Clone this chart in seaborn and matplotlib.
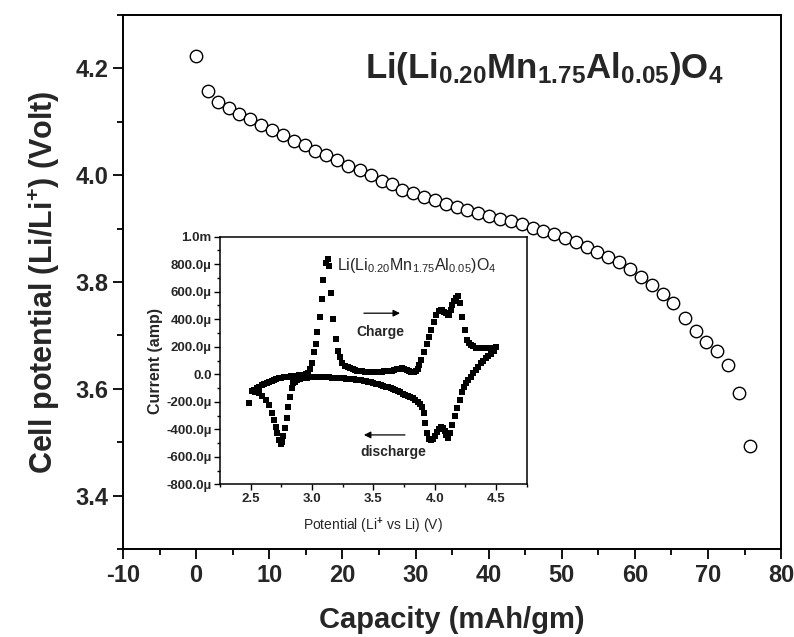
import matplotlib
matplotlib.use("Agg")
import matplotlib.pyplot as plt
from matplotlib.ticker import MultipleLocator
import seaborn as sns

# =========================
# Data
# =========================
# main panel: discharge curve
capacity = [0.0, 1.59, 2.99, 4.50, 5.91, 7.37, 8.83, 10.34, 11.93, 13.43,
            14.89, 16.26, 17.77, 19.23, 20.82, 22.42, 23.88, 25.38, 26.79, 28.20,
            29.71, 31.17, 32.68, 34.18, 35.64, 37.09, 38.60, 40.10, 41.61, 43.06,
            44.53, 46.01, 47.49, 48.98, 50.46, 51.96, 53.42, 54.83, 56.38, 57.88,
            59.35, 60.81, 62.32, 63.86, 65.26, 66.87, 68.33, 69.74, 71.21, 72.71,
            74.30, 75.76]
potential = [4.223, 4.158, 4.137, 4.125, 4.115, 4.105, 4.094, 4.085, 4.076, 4.065,
             4.056, 4.046, 4.037, 4.028, 4.018, 4.009, 4.000, 3.990, 3.983, 3.973,
             3.966, 3.959, 3.953, 3.946, 3.940, 3.935, 3.929, 3.923, 3.918, 3.914,
             3.908, 3.902, 3.896, 3.890, 3.883, 3.875, 3.866, 3.857, 3.847, 3.837,
             3.824, 3.810, 3.795, 3.777, 3.760, 3.732, 3.708, 3.688, 3.671, 3.645,
             3.593, 3.493]

# inset: cyclic voltammogram, current in microamp
charge_v = [2.49, 2.51, 2.53, 2.55, 2.57, 2.59, 2.61, 2.63, 2.65, 2.67, 2.69,
            2.71, 2.73, 2.75, 2.77, 2.79, 2.81, 2.83, 2.85, 2.87, 2.89, 2.91,
            2.93, 2.95, 2.97, 2.985, 2.998, 3.017, 3.030, 3.044, 3.066, 3.082,
            3.093, 3.112, 3.128, 3.140, 3.158, 3.174, 3.193, 3.212, 3.229, 3.248,
            3.27, 3.29, 3.31, 3.33, 3.35, 3.37, 3.39, 3.41, 3.43, 3.45, 3.47,
            3.49, 3.51, 3.53, 3.55, 3.57, 3.59, 3.61, 3.63, 3.65, 3.67, 3.69,
            3.71, 3.73, 3.75, 3.77, 3.79, 3.81, 3.83, 3.85, 3.865, 3.875, 3.89,
            3.914, 3.935, 3.955, 3.973, 3.995, 4.014, 4.036, 4.05, 4.063, 4.077,
            4.090, 4.105, 4.117, 4.131, 4.144, 4.158, 4.171, 4.190, 4.207, 4.226,
            4.245, 4.266, 4.280, 4.294, 4.31, 4.335, 4.36, 4.389, 4.415, 4.443,
            4.47, 4.497]
charge_i = [-206, -124, -112, -102, -92, -80, -70, -61, -53, -46, -40,
            -35, -30, -26, -22, -19, -17, -14, -12, -10, -8, -6,
            -3, 2, 12, 40, 85, 160, 221, 310, 419, 550,
            686, 807, 836, 790, 594, 400, 255, 172, 124, 80,
            62, 50, 42, 36, 31, 27, 24, 22, 20, 19, 18,
            18, 18, 19, 19, 20, 21, 22, 24, 27, 31, 36,
            41, 44, 40, 30, 24, 20, 20, 26, 40, 70, 104,
            165, 220, 274, 322, 383, 431, 463, 470, 468, 455,
            443, 432, 431, 465, 504, 530, 553, 569, 519, 419,
            322, 249, 225, 213, 203, 194, 191, 189, 189, 189,
            191, 196]

discharge_v = [4.480, 4.457, 4.436, 4.416, 4.395, 4.375, 4.355, 4.335, 4.315,
               4.294, 4.273, 4.253, 4.240, 4.226, 4.207, 4.185, 4.166, 4.144,
               4.125, 4.109, 4.095, 4.08, 4.065, 4.049, 4.035, 4.02, 4.005,
               3.99, 3.968, 3.955, 3.941, 3.922, 3.909, 3.895, 3.88,
               3.86, 3.84, 3.82, 3.80, 3.78, 3.76, 3.74, 3.72, 3.70, 3.68,
               3.66, 3.64, 3.62, 3.60, 3.58, 3.56, 3.54, 3.52, 3.50, 3.48,
               3.46, 3.44, 3.42, 3.40, 3.38, 3.36, 3.34, 3.32, 3.30, 3.28,
               3.26, 3.24, 3.22, 3.20, 3.18, 3.16, 3.14, 3.12, 3.10, 3.08,
               3.06, 3.04, 3.02, 3.00, 2.98, 2.96, 2.94, 2.92, 2.90, 2.88,
               2.86, 2.845, 2.834, 2.821, 2.807, 2.794, 2.780, 2.766, 2.753,
               2.745, 2.731, 2.718, 2.704, 2.690, 2.671, 2.650, 2.622, 2.595,
               2.568, 2.535, 2.514]
discharge_i = [170, 150, 133, 116, 98, 80, 55, 31, 7,
               -17, -42, -66, -95, -126, -186, -247, -307, -368,
               -428, -465, -440, -410, -390, -385, -395, -420, -450,
               -472, -478, -470, -430, -356, -283, -235, -215,
               -200, -185, -174, -165, -156, -148, -140, -131, -123, -116,
               -108, -101, -95, -89, -84, -78, -73, -68, -63, -59,
               -55, -51, -48, -45, -42, -39, -37, -35, -33, -31,
               -30, -28, -27, -26, -25, -24, -23, -22, -22, -21,
               -21, -21, -21, -22, -23, -25, -27, -30, -34, -40,
               -55, -60, -100, -162, -235, -320, -393, -448, -490,
               -507, -478, -429, -381, -332, -279, -223, -187, -158,
               -138, -126, -121]

inset_yticks = [-800, -600, -400, -200, 0, 200, 400, 600, 800, 1000]
inset_yticklabels = ['-800.0\u00b5', '-600.0\u00b5', '-400.0\u00b5', '-200.0\u00b5', '0.0',
                     '200.0\u00b5', '400.0\u00b5', '600.0\u00b5', '800.0\u00b5', '1.0m']
inset_xticks = [2.5, 3.0, 3.5, 4.0, 4.5]

compound = r'Li(Li$_{0.20}$Mn$_{1.75}$Al$_{0.05}$)O$_{4}$'
compound_bold = r'Li(Li$_{\mathbf{0.20}}$Mn$_{\mathbf{1.75}}$Al$_{\mathbf{0.05}}$)O$_{\mathbf{4}}$'

# =========================
# Style
# =========================
sns.set_style("ticks")
plt.rcParams['font.family'] = ['Liberation Sans', 'DejaVu Sans']
plt.rcParams['axes.unicode_minus'] = False
plt.rcParams['mathtext.fontset'] = 'custom'
plt.rcParams['mathtext.rm'] = 'Liberation Sans'
plt.rcParams['mathtext.it'] = 'Liberation Sans:italic'
plt.rcParams['mathtext.bf'] = 'Liberation Sans:bold'
plt.rcParams['mathtext.default'] = 'regular'

fig = plt.figure(figsize=(7.94, 6.37), dpi=100)

# =========================
# Main panel
# =========================
ax = fig.add_axes([0.155, 0.138, 0.8287, 0.8384])
sns.scatterplot(x=capacity, y=potential, ax=ax, marker='o', s=80,
                color='white', edgecolor='black', linewidth=1.0, zorder=3)
ax.set_xlim(-10, 80)
ax.set_ylim(3.3, 4.3)
ax.xaxis.set_major_locator(MultipleLocator(10))
ax.xaxis.set_minor_locator(MultipleLocator(5))
ax.yaxis.set_major_locator(MultipleLocator(0.2))
ax.yaxis.set_minor_locator(MultipleLocator(0.1))
ax.yaxis.set_major_formatter(plt.FormatStrFormatter('%.1f'))
ax.tick_params(which='major', direction='out', length=7, width=1.3, labelsize=17, color='black')
ax.tick_params(which='minor', direction='out', length=4, width=1.3, color='black')
for lab in ax.get_xticklabels() + ax.get_yticklabels():
    lab.set_fontweight('bold')
for sp in ax.spines.values():
    sp.set_linewidth(1.4)
    sp.set_color('black')

ax.set_xlabel('Capacity (mAh/gm)', fontsize=21, fontweight='bold', labelpad=14)
ax.set_ylabel(r'Cell potential (Li/Li$^{\mathbf{+}}$) (Volt)', fontsize=22,
              fontweight='bold', labelpad=10)
ax.text(0.368, 0.882, compound_bold, transform=ax.transAxes, fontsize=25,
        fontweight='bold', ha='left', va='baseline')

# =========================
# Inset: cyclic voltammogram
# =========================
axin = fig.add_axes([0.2771, 0.2397, 0.3863, 0.3887])
axin.set_facecolor('white')
sns.scatterplot(x=charge_v, y=charge_i, ax=axin, marker='s', s=20,
                color='black', linewidth=0, zorder=3)
sns.scatterplot(x=discharge_v, y=discharge_i, ax=axin, marker='s', s=20,
                color='black', linewidth=0, zorder=3)
axin.set_xlim(2.25, 4.75)
axin.set_ylim(-800, 1000)
axin.set_xticks(inset_xticks)
axin.set_xticklabels([f'{v:.1f}' for v in inset_xticks], fontsize=9.5, fontweight='bold')
axin.xaxis.set_minor_locator(MultipleLocator(0.25))
axin.set_yticks(inset_yticks)
axin.set_yticklabels(inset_yticklabels, fontsize=9.5, fontweight='bold')
axin.yaxis.set_minor_locator(MultipleLocator(100))
axin.tick_params(which='major', direction='out', length=4, width=1.0, pad=2, color='black')
axin.tick_params(which='minor', direction='out', length=2.5, width=1.0, color='black')
for sp in axin.spines.values():
    sp.set_linewidth(1.1)
    sp.set_color('black')
axin.set_xlabel(r'Potential (Li$^{\mathbf{+}}$ vs Li) (V)', fontsize=10, labelpad=8)
axin.set_ylabel('Current (amp)', fontsize=11.5, fontweight='bold', labelpad=2)

axin.text(3.2, 760, compound, fontsize=11.5, ha='left', va='baseline')
axin.annotate('', xy=(3.74, 444), xytext=(3.40, 444),
              arrowprops=dict(arrowstyle='-|>', color='black', lw=0.9, mutation_scale=10))
axin.text(3.56, 310, 'Charge', fontsize=10, fontweight='bold', ha='center', va='center')
axin.annotate('', xy=(3.40, -441), xytext=(3.78, -441),
              arrowprops=dict(arrowstyle='-|>', color='black', lw=0.9, mutation_scale=10))
axin.text(3.66, -563, 'discharge', fontsize=10, fontweight='bold', ha='center', va='center')

plt.savefig("out.png", dpi=100)
